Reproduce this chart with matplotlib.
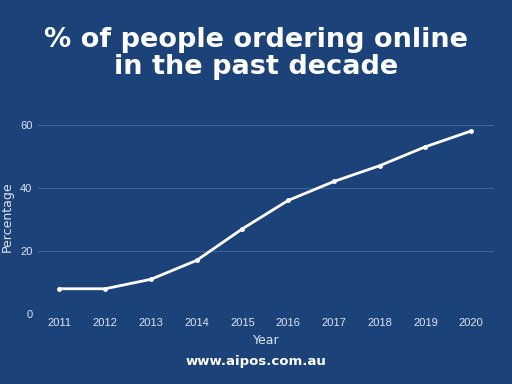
import matplotlib
matplotlib.use('Agg')
import matplotlib.pyplot as plt

years = [2011, 2012, 2013, 2014, 2015, 2016, 2017, 2018, 2019, 2020]
percentage = [8, 8, 11, 17, 27, 36, 42, 47, 53, 58]
y_ticks = [0, 20, 40, 60]

bg = '#1b4279'
grid_col = '#3d6399'
tick_col = '#dfe6f0'

fig = plt.figure(figsize=(5.12, 3.84), dpi=100, facecolor=bg)
ax = fig.add_axes([0.0742, 0.1823, 0.8906, 0.5094], facecolor=bg)

ax.plot(years, percentage, color='white', linewidth=2, marker='o', markersize=3.5,
        markeredgewidth=0, zorder=3)

ax.set_xlim(2010.53, 2020.5)
ax.set_ylim(0, 62)
ax.set_xticks(years)
ax.set_yticks(y_ticks)
ax.grid(axis='y', color=grid_col, linewidth=0.8)
ax.set_axisbelow(True)
for s in ax.spines.values():
    s.set_visible(False)
ax.tick_params(length=0, colors=tick_col, labelsize=8, pad=3)
for lbl in ax.get_xticklabels() + ax.get_yticklabels():
    lbl.set_family('Liberation Sans')
ax.tick_params(axis='y', pad=4)

ax.set_xlabel('Year', color=tick_col, fontsize=9)
ax.set_ylabel('Percentage', color=tick_col, fontsize=9)
ax.xaxis.set_label_coords(0.5, -0.10)
ax.yaxis.set_label_coords(-0.053, 0.5)

fig.text(0.5, 1 - 40 / 384, '% of people ordering online', ha='center', va='center',
         color='white', fontsize=19.5, fontweight='bold', family='DejaVu Sans')
fig.text(0.5, 1 - 67 / 384, 'in the past decade', ha='center', va='center',
         color='white', fontsize=19.5, fontweight='bold', family='DejaVu Sans')
fig.text(0.5, 1 - 362 / 384, 'www.aipos.com.au', ha='center', va='center',
         color='white', fontsize=9.5, fontweight='bold', family='DejaVu Sans')

fig.savefig('out.png', dpi=100, facecolor=bg)
